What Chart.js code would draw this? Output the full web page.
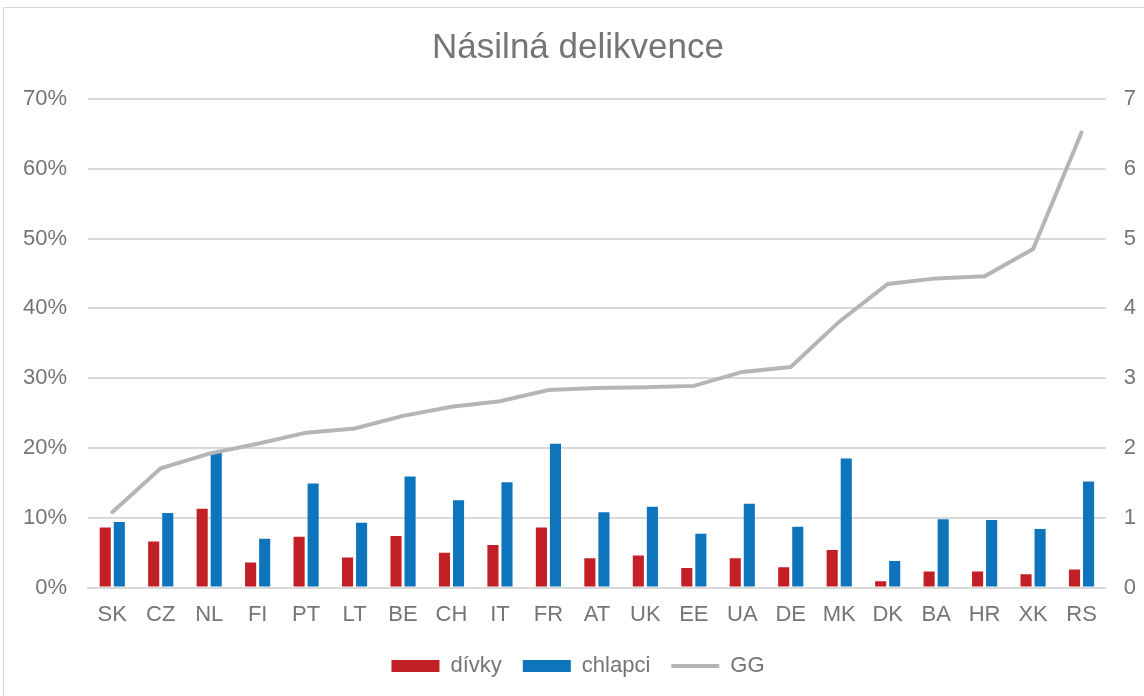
<!DOCTYPE html>
<html>
<head>
<meta charset="utf-8">
<script src="https://cdn.jsdelivr.net/npm/chart.js@4/dist/chart.umd.min.js"></script>
<style>
  body { margin: 0; background: #fff; }
  #ramecek { position: absolute; left: 3px; top: 7px; width: 1160px; height: 700px; border: 1px solid #d9d9d9; }
  #obal { position: absolute; left: 0; top: 0; width: 1144px; height: 696px; }
</style>
</head>
<body>
<div id="ramecek"></div>
<div id="obal"><canvas id="graf"></canvas></div>
<script>
// zeme a hodnoty
const zeme = ["SK", "CZ", "NL", "FI", "PT", "LT", "BE", "CH", "IT", "FR", "AT",
    "UK", "EE", "UA", "DE", "MK", "DK", "BA", "HR", "XK", "RS"];
const divky = [8.6, 6.6, 11.3, 3.6, 7.3, 4.3, 7.4, 5.0, 6.1, 8.6, 4.2,
    4.6, 2.8, 4.2, 2.9, 5.4, 0.9, 2.3, 2.3, 1.9, 2.6];
const chlapci = [9.4, 10.7, 19.4, 7.0, 14.9, 9.3, 15.9, 12.5, 15.1, 20.6, 10.8,
    11.6, 7.7, 12.0, 8.7, 18.5, 3.8, 9.8, 9.7, 8.4, 15.2];
const gg = [1.08, 1.71, 1.92, 2.06, 2.22, 2.28, 2.46, 2.59, 2.67, 2.83, 2.86,
    2.87, 2.89, 3.09, 3.16, 3.81, 4.35, 4.43, 4.46, 4.85, 6.52];
const procentaTicky = [0, 10, 20, 30, 40, 50, 60, 70];

const sedaText = "#757575";
const pismo = "'Liberation Sans', Arial, sans-serif";

function crearGraf() {
    const ctx = document.getElementById("graf").getContext("2d");
    new Chart(ctx, {
        data: {
            labels: zeme,
            datasets: [
                {
                    type: "line",
                    label: "GG",
                    data: gg,
                    yAxisID: "y2",
                    borderColor: "#b4b5b8",
                    backgroundColor: "#b4b5b8",
                    borderWidth: 4,
                    borderCapStyle: "round",
                    pointRadius: 0,
                    tension: 0,
                    order: 0
                },
                {
                    type: "bar",
                    label: "dívky",
                    data: divky,
                    yAxisID: "y",
                    backgroundColor: "#c21f26",
                    categoryPercentage: 0.58,
                    barPercentage: 0.79,
                    order: 1
                },
                {
                    type: "bar",
                    label: "chlapci",
                    data: chlapci,
                    yAxisID: "y",
                    backgroundColor: "#0e74bc",
                    categoryPercentage: 0.58,
                    barPercentage: 0.79,
                    order: 1
                }
            ]
        },
        options: {
            responsive: true,
            maintainAspectRatio: false,
            animation: false,
            layout: { padding: { left: 2, right: -10, top: 27, bottom: 9 } },
            plugins: {
                title: {
                    display: true,
                    text: "Násilná delikvence",
                    color: sedaText,
                    font: { family: pismo, size: 35, weight: "normal" },
                    padding: { top: 0, bottom: 30 }
                },
                legend: {
                    position: "bottom",
                    labels: {
                        sort: (a, b) => {
                            const poradi = { "dívky": 0, "chlapci": 1, "GG": 2 };
                            return poradi[a.text] - poradi[b.text];
                        },
                        usePointStyle: true,
                        generateLabels: (chart) => {
                            const puvodni = Chart.defaults.plugins.legend.labels.generateLabels(chart);
                            puvodni.forEach(p => {
                                p.pointStyle = p.text === "GG" ? "line" : "rect";
                                if (p.text !== "GG") p.lineWidth = 0;
                            });
                            return puvodni;
                        },
                        pointStyleWidth: 48,
                        boxHeight: 12,
                        padding: 21,
                        color: sedaText,
                        font: { family: pismo, size: 22 }
                    }
                },
                tooltip: { enabled: false }
            },
            scales: {
                x: {
                    grid: { display: false },
                    border: { color: "#d9d9d9", width: 2 },
                    ticks: { color: sedaText, font: { family: pismo, size: 22 }, padding: 6 }
                },
                y: {
                    position: "left",
                    min: 0,
                    max: 70,
                    afterBuildTicks: (osa) => { osa.ticks = procentaTicky.map(v => ({ value: v })); },
                    grid: { color: "#d9d9d9", lineWidth: 2, drawTicks: false },
                    border: { display: false },
                    ticks: {
                        color: sedaText,
                        font: { family: pismo, size: 22 },
                        padding: 21,
                        callback: (v) => v + "%"
                    }
                },
                y2: {
                    position: "right",
                    min: 0,
                    max: 7,
                    grid: { display: false, drawTicks: false },
                    border: { display: false },
                    ticks: {
                        stepSize: 1,
                        color: sedaText,
                        font: { family: pismo, size: 22 },
                        padding: 18
                    }
                }
            }
        }
    });
}

document.addEventListener("DOMContentLoaded", function() {
    crearGraf();
});
</script>
</body>
</html>
